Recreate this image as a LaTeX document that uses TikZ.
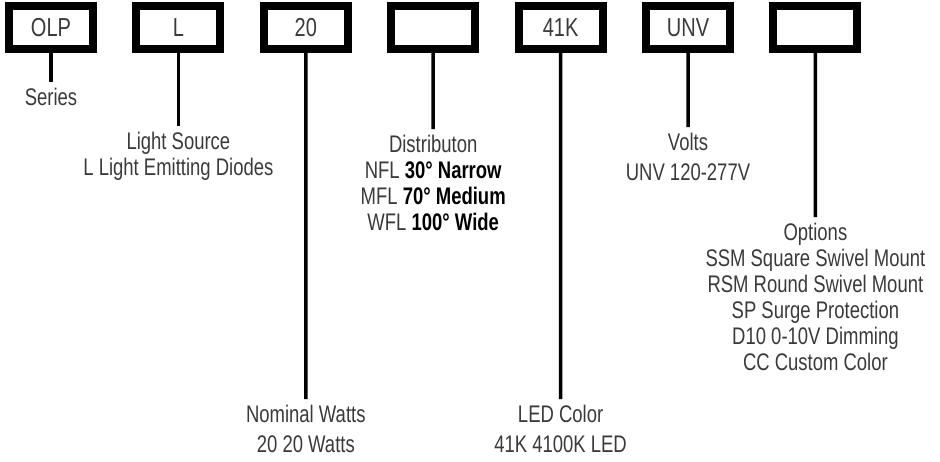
\documentclass[tikz,border=0pt]{standalone}
\usepackage{fontspec}
\setmainfont{Liberation Sans}[FakeStretch=0.77]
\definecolor{inkgray}{HTML}{3A3A3A}
\newcommand\codefont{\fontsize{26}{28}\selectfont}
\newcommand\infofont{\fontsize{24}{26}\selectfont}
\newcommand\boldspec[1]{\textcolor{black}{\bfseries #1}}

\begin{document}
\begin{tikzpicture}[x=1pt,y=-1pt,node distance=127.4pt,
  code/.style={draw,line width=8pt,minimum width=84pt,minimum height=43pt,inner sep=0pt,font=\codefont,text=inkgray},
  info/.style={anchor=north,align=center,inner sep=0pt,font=\infofont,text=inkgray},
  lead/.style={line width=3.5pt,shorten >=6pt}]
\useasboundingbox (0,0) rectangle (940,461);

\node[code](b1) at (51,27.5) {OLP};
\node[code](b2)[right of=b1]{L};
\node[code](b3)[right of=b2]{20};
\node[code](b4)[right of=b3]{};
\node[code](b5)[right of=b4]{41K};
\node[code](b6)[right of=b5]{UNV};
\node[code](b7)[right of=b6]{};

\node[info](l1) at (51,88) {Series};
\node[info](l2) at (178.4,132) {Light Source\\L Light Emitting Diodes};
\node[info](l3) at (305.8,405) {Nominal Watts\\[4pt]20 20 Watts};
\node[info](l4) at (433.2,135) {Distributon\\NFL \boldspec{30° Narrow}\\MFL \boldspec{70° Medium}\\WFL \boldspec{100° Wide}};
\node[info](l5) at (560.6,405) {LED Color\\[4pt]41K 4100K LED};
\node[info](l6) at (688,133) {Volts\\[4pt]UNV 120-277V};
\node[info](l7) at (815.4,223) {Options\\SSM Square Swivel Mount\\RSM Round Swivel Mount\\SP Surge Protection\\D10 0-10V Dimming\\CC Custom Color};

\draw[lead](b1)--(l1);
\draw[lead](b2)--(l2);
\draw[lead](b3)--(l3);
\draw[lead](b4)--(l4);
\draw[lead](b5)--(l5);
\draw[lead](b6)--(l6);
\draw[lead](b7)--(l7);
\end{tikzpicture}
\end{document}
